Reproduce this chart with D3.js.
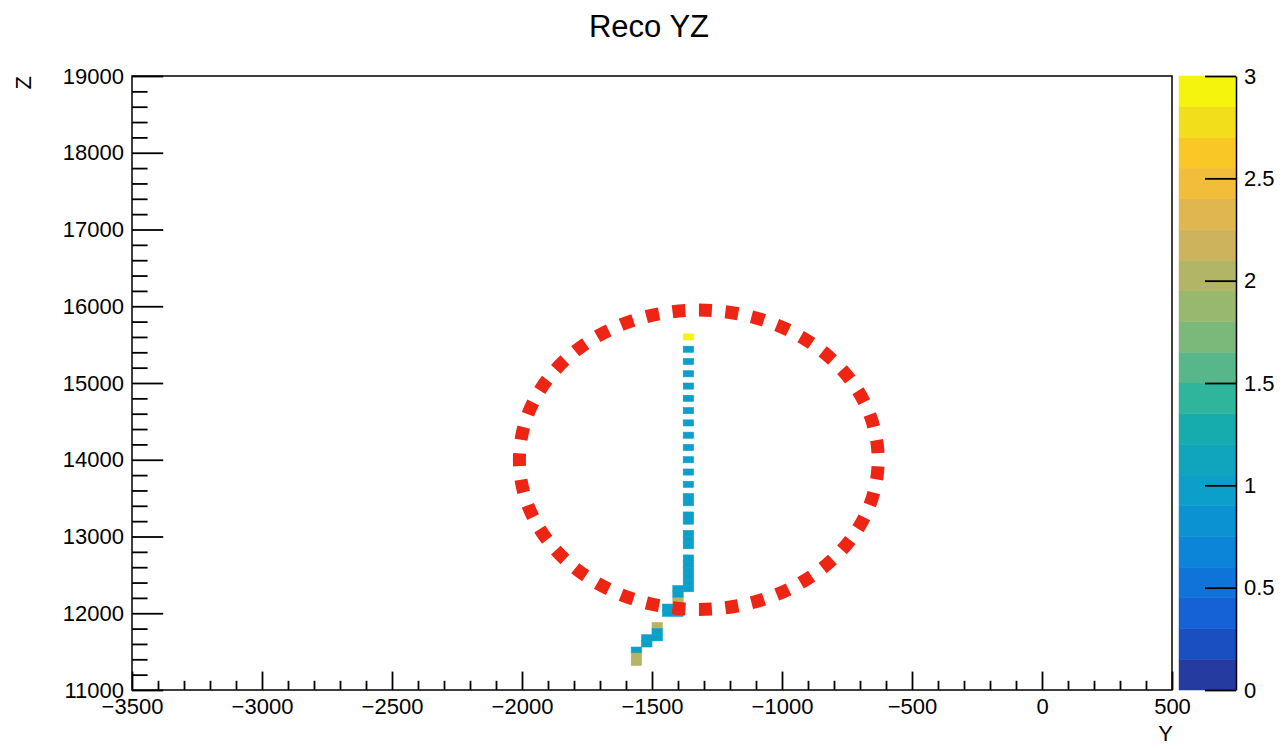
<!DOCTYPE html>
<html>
<head>
<meta charset="utf-8">
<script src="https://cdn.jsdelivr.net/npm/d3@7"></script>
<style>
  html, body { margin: 0; padding: 0; background: #ffffff; }
  svg text { font-family: "Liberation Sans", Arial, Helvetica, sans-serif; fill: #000; }
  .axis line { stroke: #000; stroke-width: 1.8; }
  .axis path { stroke: #000; stroke-width: 1.5; }
</style>
</head>
<body>
<svg id="chart" width="1283" height="749"></svg>
<script>
// Histogram binning (Y horizontal, Z vertical)
const yRange = [-3500, 500];
const zRange = [11000, 19000];
const yBinWidth = 40;
const zBinWidth = 80;

// Filled bins: centre Y, centre Z, content
const cellY = [
  -1360, -1360, -1360, -1360, -1360, -1360, -1360, -1360, -1360, -1360,
  -1360, -1360, -1360, -1360, -1360, -1360, -1360, -1360, -1360, -1360,
  -1360, -1360, -1360, -1360, -1360, -1360,
  -1400, -1400, -1400, -1400, -1400,
  -1440, -1440,
  -1480, -1480, -1480,
  -1520, -1520,
  -1560, -1560, -1560
];
const cellZ = [
  15600, 15440, 15280, 15120, 14960, 14800, 14640, 14480, 14320, 14160,
  14000, 13840, 13680, 13520, 13440, 13280, 13200, 13040, 12960, 12880,
  12720, 12640, 12560, 12480, 12400, 12320,
  12320, 12240, 12160, 12080, 12000,
  12080, 12000,
  11840, 11760, 11680,
  11680, 11600,
  11520, 11440, 11360
];
const cellCount = [
  3, 1, 1, 1, 1, 1, 1, 1, 1, 1,
  1, 1, 1, 1, 1, 1, 1, 1, 1, 1,
  1, 1, 1, 1, 1, 1,
  1, 1, 2, 1, 1,
  1, 1,
  2, 1, 1,
  1, 1,
  1, 2, 2
];

// Colour axis
const colorRange = [0, 3];
const paletteColors = [
  "#263ba0", "#1a4fc2", "#1562d6", "#0e74da", "#0c85d8",
  "#0b92d2", "#0c9fca", "#10a5bc", "#16abad", "#2eb59c",
  "#57b78a", "#7bb97a", "#98b86e", "#b3b566", "#cdb35c",
  "#e0b74e", "#f1bd3a", "#f9c826", "#f3de1c", "#f4f40c"
];

// Highlight ellipse (centre Y, centre Z, semi-axes)
const ringCenter = [-1320, 14000];
const ringRadii = [690, 1950];
const ringMarks = 39;

// Axis ticks
const xMajorTicks = [-3500, -3000, -2500, -2000, -1500, -1000, -500, 0, 500];
const xMinorStep = 100;
const yMajorTicks = [11000, 12000, 13000, 14000, 15000, 16000, 17000, 18000, 19000];
const yMinorStep = 200;
const colorTicks = [0, 0.5, 1, 1.5, 2, 2.5, 3];

const titleText = "Reco YZ";
const xTitle = "Y";
const yTitle = "Z";

// ---------------------------------------------------------------
const svg = d3.select("#chart");
const frame = { left: 132, right: 1172, top: 76, bottom: 690 };
const bar = { left: 1179, right: 1236 };

const x = d3.scaleLinear().domain(yRange).range([frame.left, frame.right]);
const y = d3.scaleLinear().domain(zRange).range([frame.bottom, frame.top]);
const c = d3.scaleLinear().domain(colorRange).range([frame.bottom, frame.top]);
const colorOf = d3.scaleQuantize().domain(colorRange).range(paletteColors);

svg.append("rect").attr("width", 1283).attr("height", 749).attr("fill", "#ffffff");

// Bins
const cells = cellY.map((v, i) => ({ y: v, z: cellZ[i], n: cellCount[i] }));
svg.append("g").selectAll("rect").data(cells).join("rect")
  .attr("x", d => x(d.y - yBinWidth / 2))
  .attr("y", d => y(d.z + zBinWidth / 2))
  .attr("width", d => x(d.y + yBinWidth / 2) - x(d.y - yBinWidth / 2))
  .attr("height", d => y(d.z - zBinWidth / 2) - y(d.z + zBinWidth / 2))
  .attr("fill", d => colorOf(d.n))
  .attr("stroke", d => colorOf(d.n))
  .attr("stroke-width", 0.6);

// Dotted ellipse
const ring = svg.append("ellipse")
  .attr("cx", x(ringCenter[0]))
  .attr("cy", y(ringCenter[1]))
  .attr("rx", x(ringCenter[0] + ringRadii[0]) - x(ringCenter[0]))
  .attr("ry", y(ringCenter[1] - ringRadii[1]) - y(ringCenter[1]))
  .attr("fill", "none")
  .attr("stroke", "#ee2414")
  .attr("stroke-width", 13);
const ringLen = ring.node().getTotalLength();
const period = ringLen / ringMarks;
const dash = 13, gap = period - dash;
ring.attr("stroke-dasharray", `${dash} ${gap}`)
    .attr("stroke-dashoffset", -gap / 2);

// Frame
svg.append("rect")
  .attr("x", frame.left).attr("y", frame.top)
  .attr("width", frame.right - frame.left).attr("height", frame.bottom - frame.top)
  .attr("fill", "none").attr("stroke", "#000").attr("stroke-width", 1.5);

const fontSize = 22;
const xTickLen = 0.03 * (frame.bottom - frame.top);
const yTickLen = 0.03 * (frame.right - frame.left);

// X axis
const xMinor = d3.range(yRange[0], yRange[1] + 1, xMinorStep).filter(v => !xMajorTicks.includes(v));
svg.append("g").attr("class", "axis").attr("transform", `translate(0,${frame.bottom})`)
  .call(d3.axisBottom(x).tickValues(xMinor).tickSize(-xTickLen / 2).tickSizeOuter(0).tickFormat(""))
  .call(g => g.select(".domain").remove());
svg.append("g").attr("class", "axis").attr("transform", `translate(0,${frame.bottom})`)
  .call(d3.axisBottom(x).tickValues(xMajorTicks).tickSize(-xTickLen).tickSizeOuter(0).tickPadding(8).tickFormat(d3.format("d")))
  .call(g => g.select(".domain").remove())
  .call(g => g.selectAll("text").attr("font-size", fontSize).attr("font-family", null));

// Y axis
const yMinor = d3.range(zRange[0], zRange[1] + 1, yMinorStep).filter(v => !yMajorTicks.includes(v));
svg.append("g").attr("class", "axis").attr("transform", `translate(${frame.left},0)`)
  .call(d3.axisLeft(y).tickValues(yMinor).tickSize(-yTickLen / 2).tickSizeOuter(0).tickFormat(""))
  .call(g => g.select(".domain").remove());
svg.append("g").attr("class", "axis").attr("transform", `translate(${frame.left},0)`)
  .call(d3.axisLeft(y).tickValues(yMajorTicks).tickSize(-yTickLen).tickSizeOuter(0).tickPadding(8).tickFormat(d3.format("d")))
  .call(g => g.select(".domain").remove())
  .call(g => g.selectAll("text").attr("font-size", fontSize).attr("font-family", null));

// Colour bar
const bandStep = (colorRange[1] - colorRange[0]) / paletteColors.length;
svg.append("g").selectAll("rect").data(paletteColors).join("rect")
  .attr("x", bar.left)
  .attr("width", bar.right - bar.left)
  .attr("y", (d, i) => c(colorRange[0] + (i + 1) * bandStep))
  .attr("height", (d, i) => c(colorRange[0] + i * bandStep) - c(colorRange[0] + (i + 1) * bandStep))
  .attr("fill", d => d)
  .attr("stroke", d => d)
  .attr("stroke-width", 0.5);
svg.append("g").attr("class", "axis").attr("transform", `translate(${bar.right},0)`)
  .call(d3.axisRight(c).tickValues(colorTicks).tickSize(-31).tickSizeOuter(0).tickPadding(8).tickFormat(d3.format("~g")))
  .call(g => g.selectAll("text").attr("font-size", fontSize).attr("font-family", null));

// Titles
svg.append("text").attr("x", 649).attr("y", 37).attr("text-anchor", "middle")
  .attr("font-size", 31).text(titleText);
svg.append("text").attr("x", frame.right + 1).attr("y", 741).attr("text-anchor", "end")
  .attr("font-size", fontSize).text(xTitle);
svg.append("text").attr("transform", `translate(31,${frame.top}) rotate(-90)`).attr("text-anchor", "end")
  .attr("font-size", fontSize).text(yTitle);
</script>
</body>
</html>
